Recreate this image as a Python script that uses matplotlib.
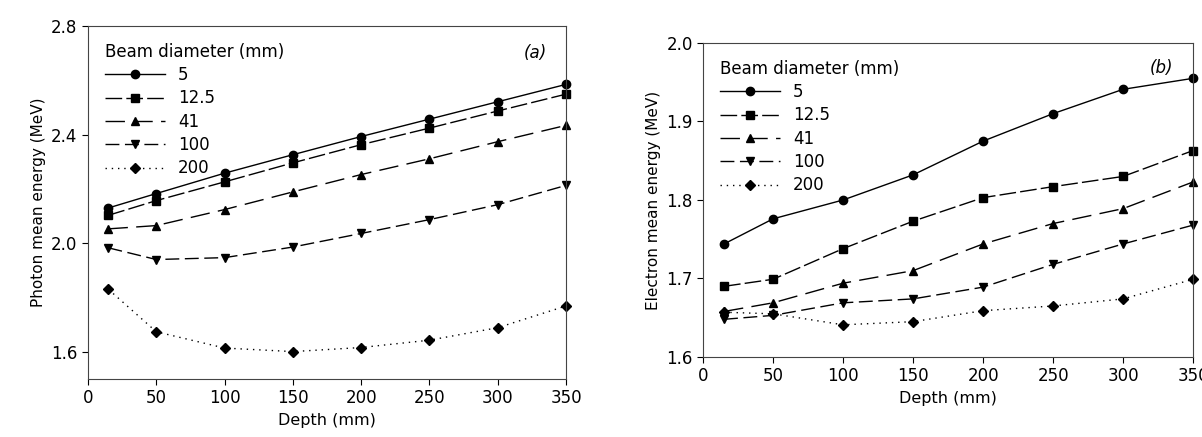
import matplotlib
matplotlib.use("Agg")
import matplotlib.pyplot as plt

depth = [15, 50, 100, 150, 200, 250, 300, 350]
beams = ["5", "12.5", "41", "100", "200"]

# photon mean energy (MeV), panel (a)
photon = {
    "5":    [2.130, 2.183, 2.258, 2.326, 2.393, 2.457, 2.521, 2.585],
    "12.5": [2.103, 2.157, 2.226, 2.296, 2.363, 2.424, 2.487, 2.549],
    "41":   [2.053, 2.065, 2.124, 2.189, 2.253, 2.311, 2.374, 2.434],
    "100":  [1.983, 1.940, 1.947, 1.986, 2.036, 2.087, 2.142, 2.213],
    "200":  [1.830, 1.674, 1.614, 1.601, 1.616, 1.643, 1.689, 1.769],
}

# electron mean energy (MeV), panel (b)
electron = {
    "5":    [1.744, 1.776, 1.800, 1.832, 1.875, 1.910, 1.941, 1.955],
    "12.5": [1.690, 1.699, 1.738, 1.773, 1.803, 1.817, 1.830, 1.863],
    "41":   [1.658, 1.669, 1.694, 1.710, 1.744, 1.770, 1.789, 1.823],
    "100":  [1.648, 1.653, 1.669, 1.674, 1.689, 1.718, 1.744, 1.768],
    "200":  [1.657, 1.655, 1.641, 1.645, 1.659, 1.665, 1.674, 1.699],
}

markers = {"5": "o", "12.5": "s", "41": "^", "100": "v", "200": "D"}
dashes = {"12.5": (12, 3), "41": (14, 6), "100": (10, 4), "200": (1, 3.5)}

plt.rcParams["font.family"] = "DejaVu Sans"
fig = plt.figure(figsize=(12.02, 4.37), dpi=100)
ax1 = fig.add_axes([0.0732, 0.1327, 0.3977, 0.8078])
ax2 = fig.add_axes([0.5849, 0.1831, 0.4077, 0.7185])


def draw(ax, data, ylabel, tag):
    for b in beams:
        line, = ax.plot(depth, data[b], color="black", lw=1.0, marker=markers[b],
                        ms=5.5 if b == "200" else 6, label=b, clip_on=False)
        if b in dashes:
            line.set_dashes(dashes[b])
    ax.set_xlim(0, 350)
    ax.set_xticks(range(0, 351, 50))
    ax.set_xlabel("Depth (mm)", fontsize=11.5)
    ax.set_ylabel(ylabel, fontsize=11)
    ax.tick_params(labelsize=12, direction="out", length=4, width=0.8)
    for s in ax.spines.values():
        s.set_linewidth(0.8)
        s.set_color("#444444")
    leg = ax.legend(title="Beam diameter (mm)", loc="upper left", frameon=False,
                    fontsize=12, title_fontsize=12, handlelength=3.6,
                    labelspacing=0.32, borderaxespad=0.6, handletextpad=0.8)
    leg._legend_box.align = "left"
    ax.text(0.96, 0.95, tag, transform=ax.transAxes, ha="right", va="top",
            fontsize=12, style="italic")


draw(ax1, photon, "Photon mean energy (MeV)", "(a)")
ax1.set_ylim(1.5, 2.8)
ax1.set_yticks([1.6, 2.0, 2.4, 2.8])

draw(ax2, electron, "Electron mean energy (MeV)", "(b)")
ax2.set_ylim(1.6, 2.0)
ax2.set_yticks([1.6, 1.7, 1.8, 1.9, 2.0])

fig.savefig("out.png", dpi=100)
